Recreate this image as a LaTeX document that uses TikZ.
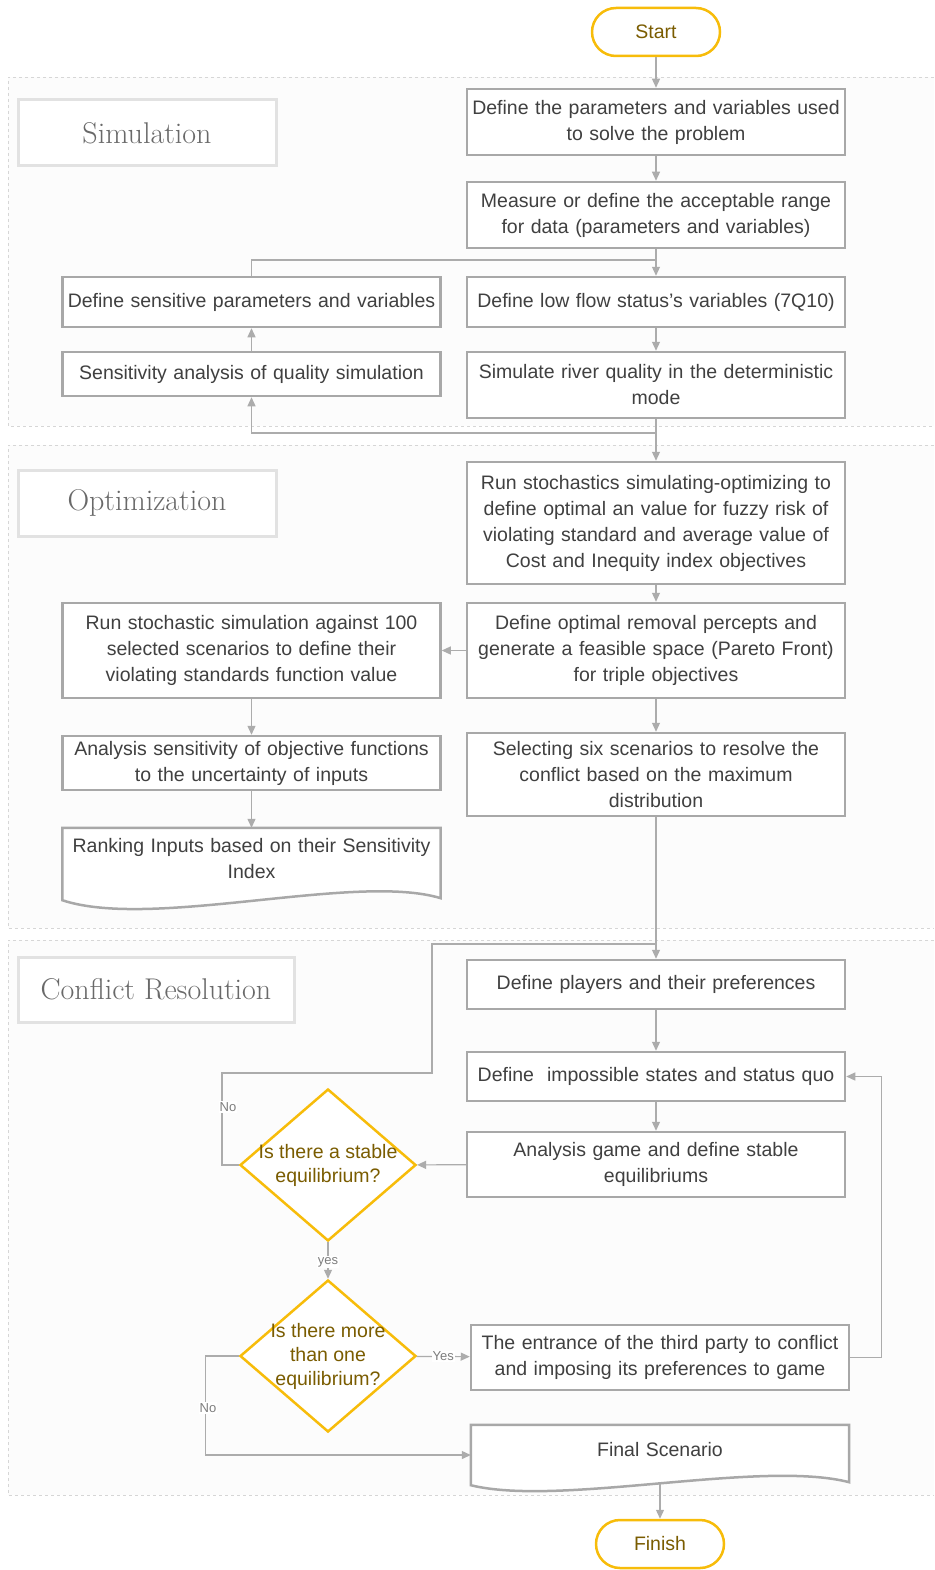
\documentclass[tikz,border=0pt]{standalone}
\usepackage{fontspec}
\setsansfont{Liberation Sans}
\usetikzlibrary{shapes.geometric}
\usetikzlibrary{arrows.meta}
\usetikzlibrary{calc}
\definecolor{boxgray}{RGB}{168,168,168}
\definecolor{linegray}{RGB}{172,172,172}
\definecolor{textgray}{RGB}{64,64,64}
\definecolor{gold}{RGB}{247,188,10}
\definecolor{golddark}{RGB}{122,92,0}
\definecolor{framegray}{RGB}{214,214,214}
\definecolor{framefill}{RGB}{252,252,252}
\definecolor{titlegray}{RGB}{226,226,226}
\definecolor{titletext}{RGB}{105,105,105}
\definecolor{tagtext}{RGB}{125,125,125}

\begin{document}
\begin{tikzpicture}[x=1pt,y=-1pt,
  box/.style={draw=boxgray, line width=2.5pt, fill=white, text=textgray,
    font=\sffamily\fontsize{19.5}{26}\selectfont, text width=368pt, align=center,
    inner xsep=5pt, inner ysep=2pt, minimum width=378pt},
  doc/.style={text=textgray, font=\sffamily\fontsize{19.5}{26}\selectfont,
    text width=368pt, align=center, inner xsep=5pt, minimum width=378pt},
  docline/.style={draw=boxgray, line width=2.5pt, fill=white},
  diam/.style={diamond, draw=gold, line width=2.5pt, fill=white, text=golddark,
    font=\sffamily\fontsize{19.5}{24}\selectfont, align=center,
    inner xsep=-22pt, inner ysep=0pt, minimum width=176pt, minimum height=152pt},
  pill/.style={rectangle, rounded corners=24pt, draw=gold, line width=2.5pt, fill=white,
    text=golddark, font=\sffamily\fontsize{19.5}{24}\selectfont,
    minimum width=128pt, minimum height=48pt},
  title/.style={draw=titlegray, line width=3pt, fill=white, text=titletext,
    font=\rmfamily\fontsize{30}{36}\selectfont},
  conn/.style={draw=linegray, line width=1.2pt, -{Triangle[length=9pt,width=8pt]}},
  link/.style={draw=linegray, line width=1.2pt},
  tag/.style={font=\sffamily\fontsize{13}{15}\selectfont, text=tagtext, fill=white, inner sep=1pt},
  frame/.style={draw=framegray, dashed, line width=0.8pt, fill=framefill}]

\useasboundingbox (0,0) rectangle (934,1570);

% section frames
\filldraw[frame] (934,77) -- (8,77) -- (8,426) -- (934,426);
\filldraw[frame] (934,445) -- (8,445) -- (8,928) -- (934,928);
\filldraw[frame] (934,940) -- (8,940) -- (8,1495) -- (934,1495);

\node[title, minimum width=258pt, minimum height=66pt] (simtitle) at (147,133) {Simulation};
\node[title, minimum width=258pt, minimum height=66pt] (opttitle) at (147,503) {Optimization};
\node[title, minimum width=276pt, minimum height=65pt] (crtitle) at (156,989.5) {Conflict Resolution};

% Simulation
\node[pill] (start) at (656,32) {Start};
\node[box, minimum height=66pt] (param) at (656,122) {Define the parameters and variables used\\ to solve the problem};
\node[box, minimum height=66pt] (range) at (656,215) {Measure or define the acceptable range\\ for data (parameters and variables)};
\node[box, minimum height=50pt] (lowflow) at (656,302) {Define low flow status's variables (7Q10)};
\node[box, minimum height=66pt] (simul) at (656,385) {Simulate river quality in the deterministic\\ mode};
\node[box, minimum height=50pt] (sensdef) at (251.5,302) {Define sensitive parameters and variables};
\node[box, minimum height=44pt] (sensana) at (251.5,374) {Sensitivity analysis of quality simulation};

% Optimization
\node[box, minimum height=122pt] (stoch) at (656,523) {Run stochastics simulating-optimizing to\\ define optimal an value for fuzzy risk of\\ violating standard and average value of\\ Cost and Inequity index objectives};
\node[box, minimum height=95pt] (pareto) at (656,650.5) {Define optimal removal percepts and\\ generate a feasible space (Pareto Front)\\ for triple objectives};
\node[box, minimum height=83pt] (select) at (656,774.5) {Selecting six scenarios to resolve the\\ conflict based on the maximum\\ distribution};
\node[box, minimum height=95pt] (runsim) at (251.5,650.5) {Run stochastic simulation against 100\\ selected scenarios to define their\\ violating standards function value};
\node[box, minimum height=54pt] (anasens) at (251.5,763) {Analysis sensitivity of objective functions\\ to the uncertainty of inputs};
\node[doc, minimum height=72pt] (rank) at (251.5,864) {};
\draw[docline] (rank.north west) -- (rank.north east) -- ([yshift=2pt]rank.south east)
  .. controls ([xshift=-85pt,yshift=28pt]rank.south east) and ([xshift=90pt,yshift=-30pt]rank.south west) .. (rank.south west) -- cycle;
\node[doc, anchor=north] (ranktext) at ([yshift=-7pt]rank.north) {Ranking Inputs based on their Sensitivity\\ Index};

% Conflict Resolution
\node[box, minimum height=49pt] (players) at (656,984.5) {Define players and their preferences};
\node[box, minimum height=49pt] (states) at (656,1076.5) {Define~ impossible states and status quo};
\node[box, minimum height=65pt] (game) at (656,1164.5) {Analysis game and define stable\\ equilibriums};
\node[diam] (stable) at (328,1165) {Is there a stable\\ equilibrium?};
\node[diam] (more) at (328,1356) {Is there more\\ than one\\ equilibrium?};
\node[box, minimum height=65pt] (third) at (660,1357.5) {The entrance of the third party to conflict\\ and imposing its preferences to game};
\node[doc, minimum height=60pt] (final) at (660,1455) {};
\draw[docline] (final.north west) -- (final.north east) -- ([yshift=3pt]final.south east)
  .. controls ([xshift=-89pt,yshift=26pt]final.south east) and ([xshift=89pt,yshift=-22pt]final.south west) .. (final.south west) -- cycle;
\node[doc, anchor=north] (finaltext) at ([yshift=-14pt]final.north) {Final Scenario};
\node[pill] (finish) at (660,1544) {Finish};

% connectors
\coordinate (j1) at (656,260);
\coordinate (j2) at (656,433);
\coordinate (j3) at (656,944);
\coordinate (nobend) at (222,1073);
\coordinate (noup) at (432,944);
\coordinate (finalbot) at ([yshift=1pt]final.south);

\draw[conn] (start) -- (param);
\draw[conn] (param) -- (range);
\draw[conn] (range) -- (lowflow);
\draw[link] (sensdef.north) |- (j1);
\draw[conn] (lowflow) -- (simul);
\draw[conn] (sensana) -- (sensdef);
\draw[conn] (simul) -- (stoch);
\draw[conn] (j2) -| (sensana.south);

\draw[conn] (stoch) -- (pareto);
\draw[conn] (pareto) -- (runsim);
\draw[conn] (pareto) -- (select);
\draw[conn] (runsim) -- (anasens);
\draw[conn] (anasens) -- (rank.north);
\draw[conn] (select) -- (players);

\draw[conn] (players) -- (states);
\draw[conn] (states) -- (game);
\draw[conn] (game) -- (stable);
\draw[link] (stable.west) -| (nobend) -| (noup) -- (j3);
\node[tag] at (228,1107) {No};
\draw[conn] (stable) -- node[tag, pos=0.55] {yes} (more);
\draw[conn] (more) -- node[tag] {Yes} (third);
\draw[conn] (third.east) -- ++(31,0) |- (states.east);
\draw[conn] (more.west) -- ++(-33,0) |- (final.west);
\node[tag] at (208,1408) {No};
\draw[conn] (finalbot) -- (finish);

\end{tikzpicture}
\end{document}
